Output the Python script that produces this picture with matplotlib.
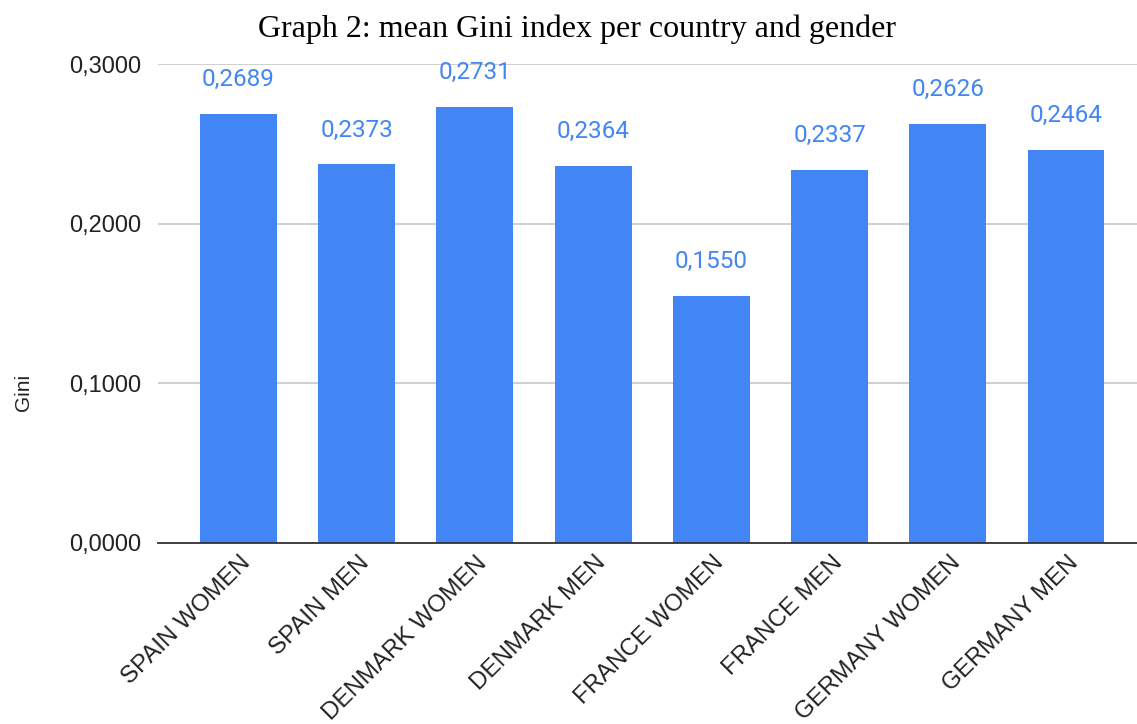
import matplotlib.pyplot as plt

# data
categories = ['SPAIN WOMEN', 'SPAIN MEN', 'DENMARK WOMEN', 'DENMARK MEN',
              'FRANCE WOMEN', 'FRANCE MEN', 'GERMANY WOMEN', 'GERMANY MEN']
gini = [0.2689, 0.2373, 0.2731, 0.2364, 0.1550, 0.2337, 0.2626, 0.2464]
yticks = [0.0, 0.1, 0.2, 0.3]

blue = '#4285F4'

fig = plt.figure(figsize=(11.37, 7.24), dpi=100)
ax = fig.add_axes([158 / 1137, 1 - 543 / 724, 1 - 158 / 1137, (543 - 64) / 724])

x = list(range(len(categories)))
ax.bar(x, gini, width=0.65, color=blue, zorder=2)

# value labels above the bars
for i, v in zip(x, gini):
    ax.annotate(f'{v:.4f}'.replace('.', ','), (i, v), xytext=(0, 24.5),
                textcoords='offset points', ha='center', va='center',
                color=blue, fontsize=17.5, family='Roboto', annotation_clip=False)

ax.set_xlim(-0.68, 7.6)
ax.set_ylim(0, 0.3)
ax.set_yticks(yticks)
ax.set_yticklabels([f'{t:.4f}'.replace('.', ',') for t in yticks],
                   fontsize=17, family='Liberation Sans', color='#222222')

# category labels, rotated 45 degrees under each bar
ax.set_xticks(x)
ax.set_xticklabels([])
for i, cat in zip(x, categories):
    ax.annotate(cat, (i, 0), xycoords=('data', 'axes fraction'), xytext=(6.5, -12),
                textcoords='offset points', rotation=45, ha='right', va='center',
                rotation_mode='anchor', fontsize=17.3, family='Liberation Sans',
                color='#222222', annotation_clip=False)

ax.tick_params(axis='both', length=0, pad=12)
ax.grid(axis='y', color='#cccccc', linewidth=1.3, zorder=0)
for s in ['top', 'right', 'left']:
    ax.spines[s].set_visible(False)
ax.spines['bottom'].set_color('#333333')
ax.spines['bottom'].set_linewidth(1.3)
ax.spines['bottom'].set_zorder(3)

ax.set_ylabel('Gini', fontsize=15, family='Liberation Sans', color='#222222')
ax.yaxis.set_label_coords(-0.128, 0.315)

fig.text(577 / 1137, 1 - 29 / 724, 'Graph 2: mean Gini index per country and gender',
         ha='center', va='center', fontsize=23, family='Liberation Serif', color='#000000')

fig.savefig('out.png', dpi=100)
